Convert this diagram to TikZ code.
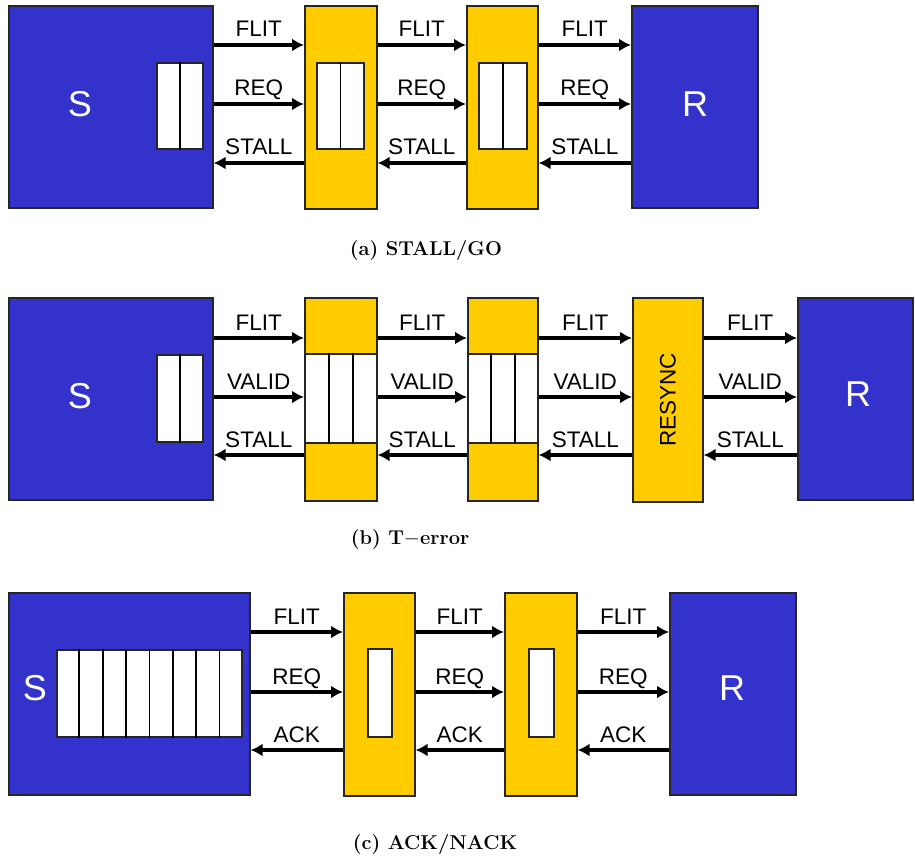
\documentclass[tikz,border=0pt]{standalone}
\usepackage{fontspec}
\newfontfamily\sigfont{Liberation Sans}
\usetikzlibrary{arrows.meta,calc}
\definecolor{nodeblue}{RGB}{51,51,204}
\definecolor{hopyellow}{RGB}{255,204,0}
\begin{document}
\begin{tikzpicture}[
  x=1pt, y=-1pt,
  box/.style={draw=black!85, line width=1.6pt, inner sep=0pt, anchor=north west},
  endpoint/.style={box, fill=nodeblue},
  hop/.style={box, fill=hopyellow},
  buffer/.style={box, fill=white, line width=1.8pt},
  letter/.style={text=white, font=\sigfont\fontsize{36}{36}\selectfont},
  fwd/.style={line width=3.2pt, -{Latex[length=12pt,width=13pt]}},
  bwd/.style={line width=3.2pt, -{Latex[length=12pt,width=13pt]}},
  sig/.style={midway, anchor=base, yshift=8pt, inner sep=0pt, font=\sigfont\fontsize{22.5}{22.5}\selectfont},
  caption/.style={font=\fontsize{20}{24}\selectfont\bfseries}
]
\useasboundingbox (0,0) rectangle (915,861);

% (a)
\node[endpoint, minimum width=204, minimum height=202] (Sa) at (8,5) {};
\node[hop, minimum width=72, minimum height=203] (Y1a) at (304,5) {};
\node[hop, minimum width=71, minimum height=203] (Y2a) at (466,5) {};
\node[endpoint, minimum width=126, minimum height=202] (Ra) at (631,5) {};
\node[letter] (Sa-txt) at (80,104) {S};
\node[letter] (Ra-txt) at (695,104) {R};
\node[buffer, minimum width=46, minimum height=86] (BSa) at (156,62) {};
\node[buffer, minimum width=47, minimum height=86] (BY1a) at (316,62) {};
\node[buffer, minimum width=48, minimum height=86] (BY2a) at (478,62) {};
\foreach \b in {BSa,BY1a,BY2a}
  \draw[line width=1.8pt] (\b.north) -- (\b.south);
\coordinate (a1) at (0,45);
\coordinate (a2) at (0,104);
\coordinate (a3) at (0,163);
\foreach \l/\r in {Sa/Y1a, Y1a/Y2a, Y2a/Ra} {
  \draw[fwd] (\l.east |- a1) -- (\r.west |- a1) node[sig] {FLIT};
  \draw[fwd] (\l.east |- a2) -- (\r.west |- a2) node[sig] {REQ};
  \draw[bwd] (\r.west |- a3) -- (\l.east |- a3) node[sig] {STALL};
}
\node[caption] (capa) at (426,251) {(a) STALL/GO};

% (b)
\node[endpoint, minimum width=204, minimum height=202] (Sb) at (8,297) {};
\node[hop, minimum width=72, minimum height=203] (Y1b) at (304,297) {};
\node[hop, minimum width=70, minimum height=203] (Y2b) at (467,297) {};
\node[hop, minimum width=70, minimum height=204] (RSb) at (632,297) {};
\node[endpoint, minimum width=115, minimum height=202] (Rb) at (797,297) {};
\node[letter] (Sb-txt) at (80,396) {S};
\node[letter] (Rb-txt) at (858,394) {R};
\node[rotate=90, font=\sigfont\fontsize{22.5}{22.5}\selectfont] (RSb-txt) at (RSb.center) {RESYNC};
\node[buffer, minimum width=46, minimum height=87] (BSb) at (156,354) {};
\draw[line width=1.8pt] (BSb.north) -- (BSb.south);
\node[buffer, minimum width=72, minimum height=89] (BY1b) at (304,353) {};
\node[buffer, minimum width=70, minimum height=89] (BY2b) at (467,353) {};
\foreach \b in {BY1b,BY2b}
  \foreach \i in {1,2}
    \draw[line width=1.8pt] ($(\b.north west)!\i/3!(\b.north east)$) -- ($(\b.south west)!\i/3!(\b.south east)$);
\coordinate (b1) at (0,338);
\coordinate (b2) at (0,397);
\coordinate (b3) at (0,455);
\foreach \l/\r in {Sb/Y1b, Y1b/Y2b, Y2b/RSb, RSb/Rb} {
  \draw[fwd] (\l.east |- b1) -- (\r.west |- b1) node[sig] {FLIT};
  \draw[fwd] (\l.east |- b2) -- (\r.west |- b2) node[sig] {VALID};
  \draw[bwd] (\r.west |- b3) -- (\l.east |- b3) node[sig] {STALL};
}
\node[caption] (capb) at (410,540) {(b) T$-$error};

% (c)
\node[endpoint, minimum width=241, minimum height=202] (Sc) at (8,592) {};
\node[hop, minimum width=71, minimum height=203] (Y1c) at (343,592) {};
\node[hop, minimum width=72, minimum height=203] (Y2c) at (504,592) {};
\node[endpoint, minimum width=126, minimum height=202] (Rc) at (669,592) {};
\node[letter] (Sc-txt) at (35,688) {S};
\node[letter] (Rc-txt) at (732,688) {R};
\node[buffer, minimum width=185, minimum height=87] (BSc) at (56,649) {};
\foreach \i in {1,...,7}
  \draw[line width=1.8pt] ($(BSc.north west)!\i/8!(BSc.north east)$) -- ($(BSc.south west)!\i/8!(BSc.south east)$);
\node[buffer, minimum width=24, minimum height=88] (BY1c) at (367,648) {};
\node[buffer, minimum width=25, minimum height=88] (BY2c) at (528,648) {};
\coordinate (c1) at (0,632);
\coordinate (c2) at (0,692);
\coordinate (c3) at (0,750);
\foreach \l/\r in {Sc/Y1c, Y1c/Y2c, Y2c/Rc} {
  \draw[fwd] (\l.east |- c1) -- (\r.west |- c1) node[sig] {FLIT};
  \draw[fwd] (\l.east |- c2) -- (\r.west |- c2) node[sig] {REQ};
  \draw[bwd] (\r.west |- c3) -- (\l.east |- c3) node[sig] {ACK};
}
\node[caption] (capc) at (435,845) {(c) ACK/NACK};
\end{tikzpicture}
\end{document}
